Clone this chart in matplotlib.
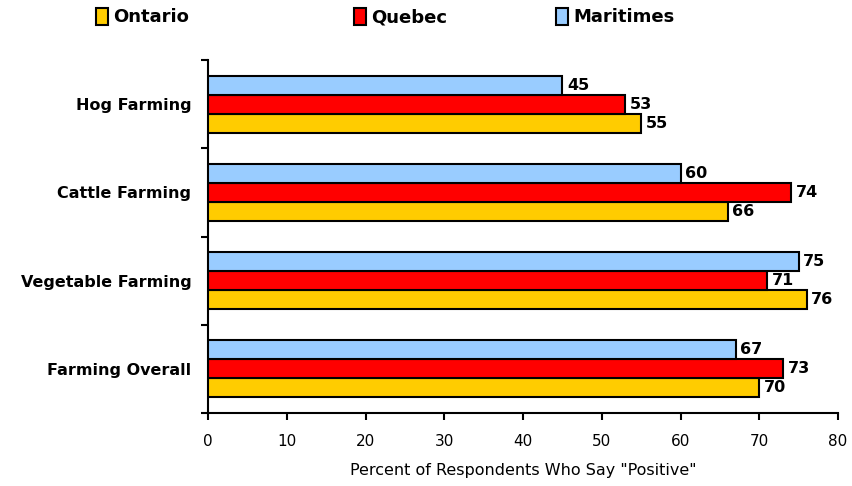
import matplotlib
matplotlib.use("Agg")
import matplotlib.pyplot as plt
from matplotlib.patches import Patch
import numpy as np

categories = ["Farming Overall", "Vegetable Farming", "Cattle Farming", "Hog Farming"]
ontario = [70, 76, 66, 55]
quebec = [73, 71, 74, 53]
maritimes = [67, 75, 60, 45]
series_names = ["Ontario", "Quebec", "Maritimes"]
colors = ["#FFCC00", "#FF0000", "#99CCFF"]
xticks = [0, 10, 20, 30, 40, 50, 60, 70, 80]

plt.rcParams['font.family'] = ['DejaVu Sans']

fig = plt.figure(figsize=(8.52, 4.86), dpi=100)
ax = fig.add_axes([208/852, 1-413/486, (838-208)/852, (413-60)/486])

y = np.arange(len(categories))
h = 0.215
offsets = [-h, 0, h]
for vals, off, col in zip([ontario, quebec, maritimes], offsets, colors):
    ax.barh(y + off, vals, height=h, color=col, edgecolor="black", linewidth=1.5, zorder=3)
    for yi, v in zip(y, vals):
        ax.text(v + 0.6, yi + off, str(v), va="center", ha="left",
                fontsize=11.5, fontweight="bold")

ax.set_xlim(0, 80)
ax.set_ylim(-0.5, len(categories) - 0.5)
ax.set_xticks(xticks)
ax.set_xticklabels([str(t) for t in xticks], fontsize=11)
ax.set_yticks(np.arange(-0.5, len(categories), 1.0))
ax.set_yticklabels([])
ax.set_yticks(y, minor=True)
ax.set_yticklabels(categories, minor=True, fontsize=11.5, fontweight="bold")
ax.tick_params(axis="y", which="minor", length=0, pad=12)
ax.tick_params(axis="y", which="major", length=5, width=1.5, direction="out")
ax.tick_params(axis="x", length=5, width=1.5, direction="out", pad=10)
for s in ["top", "right"]:
    ax.spines[s].set_visible(False)
for s in ["left", "bottom"]:
    ax.spines[s].set_linewidth(1.5)
ax.set_xlabel('Percent of Respondents Who Say "Positive"', fontsize=11.5, labelpad=10)

legend_x = [96/852, 354/852, 556/852]
for name, col, lx in zip(series_names, colors, legend_x):
    fig.legend(handles=[Patch(facecolor=col, edgecolor="black", linewidth=1.5)],
               labels=[name], loc="center left", bbox_to_anchor=(lx, 1-17/486),
               frameon=False, handlelength=0.65, handleheight=1.1, handletextpad=0.3,
               borderpad=0, borderaxespad=0,
               prop={"weight": "bold", "size": 13})

fig.savefig("out.png", dpi=100)
